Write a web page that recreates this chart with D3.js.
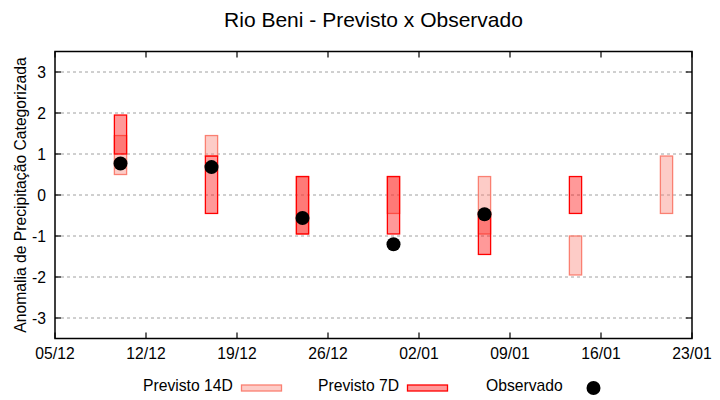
<!DOCTYPE html>
<html>
<head>
<meta charset="utf-8">
<script src="https://cdn.jsdelivr.net/npm/d3@7"></script>
<style>
  body { margin: 0; background: #fff; }
  text { font-family: "Liberation Sans", Arial, sans-serif; fill: #000; }
</style>
</head>
<body>
<div id="vis"></div>
<script>
var width = 720,
    height = 400,
    pLeft = 55, pRight = 692, pTop = 51.5, pBottom = 338.5;

// semanas previstas
var dates = ["2023-12-10", "2023-12-17", "2023-12-24", "2023-12-31", "2024-01-07", "2024-01-14", "2024-01-21"];
var prev14Low  = [0.5, 0.95, -0.95, -0.45, -0.95, -1.95, -0.45];
var prev14High = [1.45, 1.45, 0.45, 0.45, 0.45, -1.0, 0.95];
var prev7Low   = [1.0, -0.45, -0.95, -0.95, -1.45, -0.45, null];
var prev7High  = [1.95, 0.95, 0.45, 0.45, -0.45, 0.45, null];
var observado  = [0.77, 0.68, -0.56, -1.2, -0.47, null, null];
var yTicks = [-3, -2, -1, 0, 1, 2, 3];
var xTicks = ["2023-12-05", "2023-12-12", "2023-12-19", "2023-12-26", "2024-01-02", "2024-01-09", "2024-01-16", "2024-01-23"];

var parse = d3.utcParse("%Y-%m-%d"),
    fmt = d3.utcFormat("%d/%m");

var x = d3.scaleUtc()
    .domain([parse("2023-12-05"), parse("2024-01-23")])
    .range([pLeft, pRight]);
var y = d3.scaleLinear().domain([-3.5, 3.5]).range([pBottom, pTop]);

var svg = d3.select("#vis").append("svg")
    .attr("width", width)
    .attr("height", height);

// grade
svg.selectAll(".grid").data(yTicks).enter()
    .append("line")
    .attr("x1", pLeft).attr("x2", pRight)
    .attr("y1", function(d){return y(d)}).attr("y2", function(d){return y(d)})
    .attr("stroke", "#a0a0a0")
    .attr("stroke-width", 1)
    .attr("stroke-dasharray", "3,3");

var day = 86400000,
    half = 0.47 * day;

function bars(low, high, fill, stroke) {
    var rows = dates.map(function(d, i){return {d: parse(d), lo: low[i], hi: high[i]}})
        .filter(function(r){return r.lo != null});
    svg.append("g").selectAll("rect").data(rows).enter()
        .append("rect")
        .attr("x", function(r){return x(new Date(+r.d - half)) + 0.5})
        .attr("width", function(r){return x(new Date(+r.d + half)) - x(new Date(+r.d - half))})
        .attr("y", function(r){return y(r.hi)})
        .attr("height", function(r){return y(r.lo) - y(r.hi)})
        .attr("fill", fill)
        .attr("fill-opacity", 0.4)
        .attr("stroke", stroke)
        .attr("stroke-width", 1.3);
}

bars(prev14Low, prev14High, "salmon", "salmon");
bars(prev7Low, prev7High, "red", "red");

var obsRows = dates.map(function(d, i){return {d: parse(d), v: observado[i]}})
    .filter(function(r){return r.v != null});
svg.append("g").selectAll("circle").data(obsRows).enter()
    .append("circle")
    .attr("cx", function(r){return x(r.d) + 0.5})
    .attr("cy", function(r){return y(r.v)})
    .attr("r", 7)
    .attr("fill", "#000");

// moldura e marcas
svg.append("rect")
    .attr("x", pLeft).attr("y", pTop)
    .attr("width", pRight - pLeft).attr("height", pBottom - pTop)
    .attr("fill", "none").attr("stroke", "#000").attr("stroke-width", 1.5);

var tk = 6;
yTicks.forEach(function(t){
    svg.append("line").attr("x1", pLeft).attr("x2", pLeft + tk)
        .attr("y1", y(t)).attr("y2", y(t)).attr("stroke", "#000").attr("stroke-width", 1.2);
    svg.append("line").attr("x1", pRight - tk).attr("x2", pRight)
        .attr("y1", y(t)).attr("y2", y(t)).attr("stroke", "#000").attr("stroke-width", 1.2);
    svg.append("text").attr("x", 46).attr("y", y(t) + 5.5)
        .attr("text-anchor", "end").style("font-size", "15.7px").text(t);
});
xTicks.forEach(function(t){
    var px = x(parse(t));
    svg.append("line").attr("x1", px).attr("x2", px)
        .attr("y1", pBottom).attr("y2", pBottom - tk).attr("stroke", "#000").attr("stroke-width", 1.2);
    svg.append("line").attr("x1", px).attr("x2", px)
        .attr("y1", pTop).attr("y2", pTop + tk).attr("stroke", "#000").attr("stroke-width", 1.2);
    svg.append("text").attr("x", px).attr("y", 358.5)
        .attr("text-anchor", "middle").style("font-size", "15.7px").text(fmt(parse(t)));
});

svg.append("text")
    .attr("x", (pLeft + pRight) / 2).attr("y", 26.5)
    .attr("text-anchor", "middle").style("font-size", "21px")
    .text("Rio Beni - Previsto x Observado");

svg.append("text")
    .attr("transform", "translate(26," + ((pTop + pBottom) / 2) + ") rotate(-90)")
    .attr("text-anchor", "middle").style("font-size", "15.7px")
    .text("Anomalia de Precipitação Categorizada");

// legenda
var legend = svg.append("g");
legend.append("text").attr("x", 143).attr("y", 391).style("font-size", "15.7px").text("Previsto 14D");
legend.append("rect").attr("x", 241.5).attr("y", 385).attr("width", 40).attr("height", 6)
    .attr("fill", "salmon").attr("fill-opacity", 0.4).attr("stroke", "salmon").attr("stroke-width", 1.3);
legend.append("text").attr("x", 318).attr("y", 391).style("font-size", "15.7px").text("Previsto 7D");
legend.append("rect").attr("x", 407.5).attr("y", 385).attr("width", 40).attr("height", 6)
    .attr("fill", "red").attr("fill-opacity", 0.4).attr("stroke", "red").attr("stroke-width", 1.3);
legend.append("text").attr("x", 486).attr("y", 391).style("font-size", "15.7px").text("Observado");
legend.append("circle").attr("cx", 593.5).attr("cy", 388).attr("r", 7).attr("fill", "#000");
</script>
</body>
</html>
